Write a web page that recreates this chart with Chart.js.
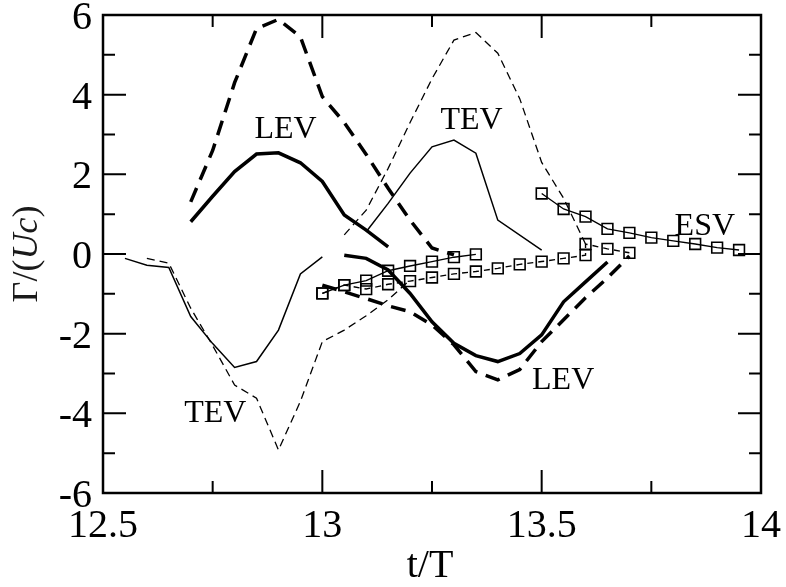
<!DOCTYPE html>
<html><head><meta charset="utf-8">
<script src="https://cdn.jsdelivr.net/npm/chart.js@4/dist/chart.umd.min.js"></script>
<style>html,body{margin:0;padding:0;background:#fff}canvas{display:block}</style>
</head><body>
<canvas id="c" width="786" height="587"></canvas>
<script>
// ---- tick labels ----
const xTickValues = [12.5, 13, 13.5, 14];
const xTickLabels = ['12.5', '13', '13.5', '14'];
const yTickValues = [-6, -4, -2, 0, 2, 4, 6];
const yTickLabels = ['-6', '-4', '-2', '0', '2', '4', '6'];

// ---- series (t/T, Gamma/(Uc)) ----
const tevSolidLowX = [12.55, 12.6, 12.65, 12.7, 12.75, 12.8, 12.85, 12.9, 12.95, 13.0];
const tevSolidLowY = [-0.11, -0.28, -0.34, -1.57, -2.25, -2.85, -2.70, -1.91, -0.50, -0.07];

const tevDashLowX = [12.6, 12.65, 12.7, 12.75, 12.8, 12.85, 12.9, 12.95, 13.0, 13.05, 13.1, 13.15, 13.2];
const tevDashLowY = [-0.11, -0.23, -1.36, -2.3, -3.29, -3.62, -4.92, -3.7, -2.2, -1.91, -1.55, -1.15, -0.65];

const tevSolidUpX = [13.1, 13.15, 13.2, 13.25, 13.3, 13.35, 13.4, 13.5];
const tevSolidUpY = [0.56, 1.27, 2.03, 2.69, 2.86, 2.53, 0.85, 0.10];

const tevDashUpX = [13.05, 13.1, 13.15, 13.2, 13.25, 13.3, 13.35, 13.4, 13.45, 13.5, 13.55, 13.6];
const tevDashUpY = [0.48, 1.1, 2.15, 3.3, 4.4, 5.37, 5.56, 5.04, 3.9, 2.3, 1.4, 0.25];

const levSolidUpX = [12.7, 12.75, 12.8, 12.85, 12.9, 12.95, 13.0, 13.05, 13.1, 13.15];
const levSolidUpY = [0.81, 1.45, 2.07, 2.51, 2.54, 2.29, 1.82, 0.98, 0.60, 0.18];

const levDashUpX = [12.7, 12.75, 12.8, 12.85, 12.9, 12.95, 13.0, 13.05, 13.1, 13.15, 13.2, 13.25, 13.3];
const levDashUpY = [1.31, 2.6, 4.3, 5.66, 5.89, 5.45, 3.95, 3.3, 2.5, 1.65, 0.85, 0.15, -0.02];

const levSolidLowX = [13.05, 13.1, 13.15, 13.2, 13.25, 13.3, 13.35, 13.4, 13.45, 13.5, 13.55, 13.6, 13.65];
const levSolidLowY = [-0.03, -0.11, -0.40, -0.99, -1.7, -2.24, -2.55, -2.70, -2.5, -2.03, -1.2, -0.7, -0.2];

const levDashLowX = [13.0, 13.05, 13.1, 13.15, 13.2, 13.25, 13.3, 13.35, 13.4, 13.45, 13.5, 13.55, 13.6, 13.65, 13.7];
const levDashLowY = [-0.78, -0.95, -1.12, -1.3, -1.45, -1.78, -2.28, -2.95, -3.16, -2.9, -2.2, -1.65, -1.1, -0.6, -0.05];

const sqSolidX = [13.0, 13.05, 13.1, 13.15, 13.2, 13.25, 13.3, 13.35];
const sqSolidY = [-0.99, -0.78, -0.67, -0.42, -0.30, -0.19, -0.08, -0.01];

const sqDashX = [13.0, 13.05, 13.1, 13.15, 13.2, 13.25, 13.3, 13.35, 13.4, 13.45, 13.5, 13.55, 13.6, 13.6, 13.65, 13.7];
const sqDashY = [-0.99, -0.78, -0.88, -0.76, -0.68, -0.59, -0.50, -0.44, -0.36, -0.26, -0.19, -0.11, -0.03, 0.25, 0.13, 0.03];

const esvX = [13.5, 13.55, 13.6, 13.65, 13.7, 13.75, 13.8, 13.85, 13.9, 13.95];
const esvY = [1.52, 1.13, 0.94, 0.63, 0.53, 0.41, 0.33, 0.25, 0.16, 0.10];

// ---- in-plot labels ----
const annotTexts = ['LEV', 'TEV', 'TEV', 'LEV', 'ESV'];
const annotX = [12.916, 13.340, 12.756, 13.549, 13.872];
const annotY = [2.91, 3.14, -4.22, -3.39, 0.48];

const FONT = '"Liberation Serif","Times New Roman",serif';

function pts(xs, ys) { return xs.map((v, i) => ({ x: v, y: ys[i] })); }

function lineDS(xs, ys, width, dash) {
  return {
    data: pts(xs, ys), showLine: true, borderColor: '#000', backgroundColor: '#000',
    borderWidth: width, borderDash: dash, pointRadius: 0, pointHoverRadius: 0,
    tension: 0, fill: false, borderJoinStyle: 'miter', borderCapStyle: 'butt'
  };
}
function squareDS(xs, ys, dash) {
  return {
    data: pts(xs, ys), showLine: true, borderColor: '#000', backgroundColor: 'rgba(0,0,0,0)',
    borderWidth: 1.4, borderDash: dash, pointStyle: 'rect', pointRadius: 7.6,
    pointBorderWidth: 1.6, pointBorderColor: '#000', pointBackgroundColor: 'rgba(0,0,0,0)',
    tension: 0, fill: false
  };
}

const framePlugin = {
  id: 'frame',
  afterDraw(chart) {
    const { ctx, chartArea: a, scales: { x, y } } = chart;
    ctx.save();
    ctx.strokeStyle = '#000';
    ctx.lineCap = 'butt';
    // ticks (inward, mirrored)
    ctx.lineWidth = 2;
    const MAJ = 23, MIN = 12;
    const xMinor = xTickValues.slice(0, -1).map((v, i) => (v + xTickValues[i + 1]) / 2);
    const yMinor = yTickValues.slice(0, -1).map((v, i) => (v + yTickValues[i + 1]) / 2);
    ctx.beginPath();
    xTickValues.forEach(v => { const p = x.getPixelForValue(v);
      ctx.moveTo(p, a.bottom); ctx.lineTo(p, a.bottom - MAJ);
      ctx.moveTo(p, a.top); ctx.lineTo(p, a.top + MAJ); });
    xMinor.forEach(v => { const p = x.getPixelForValue(v);
      ctx.moveTo(p, a.bottom); ctx.lineTo(p, a.bottom - MIN);
      ctx.moveTo(p, a.top); ctx.lineTo(p, a.top + MIN); });
    yTickValues.forEach(v => { const p = y.getPixelForValue(v);
      ctx.moveTo(a.left, p); ctx.lineTo(a.left + MAJ, p);
      ctx.moveTo(a.right, p); ctx.lineTo(a.right - MAJ, p); });
    yMinor.forEach(v => { const p = y.getPixelForValue(v);
      ctx.moveTo(a.left, p); ctx.lineTo(a.left + MIN, p);
      ctx.moveTo(a.right, p); ctx.lineTo(a.right - MIN, p); });
    ctx.stroke();
    // frame
    ctx.lineWidth = 2.5;
    ctx.strokeRect(a.left, a.top, a.right - a.left, a.bottom - a.top);

    // tick labels
    ctx.fillStyle = '#000';
    ctx.font = '40px ' + FONT;
    ctx.textBaseline = 'alphabetic';
    ctx.textAlign = 'right';
    yTickValues.forEach((v, i) => {
      ctx.fillText(yTickLabels[i], a.left - 11, y.getPixelForValue(v) + 14);
    });
    ctx.textAlign = 'center';
    xTickValues.forEach((v, i) => {
      ctx.fillText(xTickLabels[i], x.getPixelForValue(v), a.bottom + 44);
    });
    // x title
    ctx.fillText('t/T', (a.left + a.right) / 2 - 2, a.bottom + 84);

    // y title, rotated, with italic Uc
    ctx.save();
    ctx.translate(37, (a.top + a.bottom) / 2);
    ctx.rotate(-Math.PI / 2);
    const parts = [['Γ/(', 'normal'], ['Uc', 'italic'], [')', 'normal']];
    let total = 0;
    const widths = parts.map(p => { ctx.font = (p[1] === 'italic' ? 'italic ' : '') + '36px ' + FONT;
      const w = ctx.measureText(p[0]).width; total += w; return w; });
    let cx = -total / 2;
    ctx.textAlign = 'left';
    ctx.fillStyle = '#1a1a1a';
    parts.forEach((p, i) => { ctx.font = (p[1] === 'italic' ? 'italic ' : '') + '36px ' + FONT;
      ctx.fillText(p[0], cx, 0); cx += widths[i]; });
    ctx.restore();

    // annotations
    ctx.fillStyle = '#000';
    ctx.font = '32px ' + FONT;
    ctx.textAlign = 'center';
    annotTexts.forEach((t, i) => {
      ctx.fillText(t, x.getPixelForValue(annotX[i]), y.getPixelForValue(annotY[i]));
    });
    ctx.restore();
  }
};

new Chart(document.getElementById('c'), {
  type: 'scatter',
  data: {
    datasets: [
      squareDS(esvX, esvY, []),
      squareDS(sqSolidX, sqSolidY, []),
      squareDS(sqDashX, sqDashY, [6, 5]),
      lineDS(levSolidUpX, levSolidUpY, 3.5, []),
      lineDS(levDashUpX, levDashUpY, 3.5, [15, 9]),
      lineDS(levSolidLowX, levSolidLowY, 3.5, []),
      lineDS(levDashLowX, levDashLowY, 3.5, [15, 9]),
      lineDS(tevSolidLowX, tevSolidLowY, 1.5, []),
      lineDS(tevDashLowX, tevDashLowY, 1.3, [8, 5]),
      lineDS(tevSolidUpX, tevSolidUpY, 1.5, []),
      lineDS(tevDashUpX, tevDashUpY, 1.3, [8, 5])
    ]
  },
  options: {
    responsive: false, animation: false, devicePixelRatio: 1,
    layout: { padding: { left: 103, right: 25, top: 15, bottom: 94 } },
    plugins: { legend: { display: false }, tooltip: { enabled: false } },
    events: [],
    scales: {
      x: { type: 'linear', display: false, min: 12.5, max: 14 },
      y: { type: 'linear', display: false, min: -6, max: 6 }
    }
  },
  plugins: [framePlugin]
});
</script>
</body></html>
